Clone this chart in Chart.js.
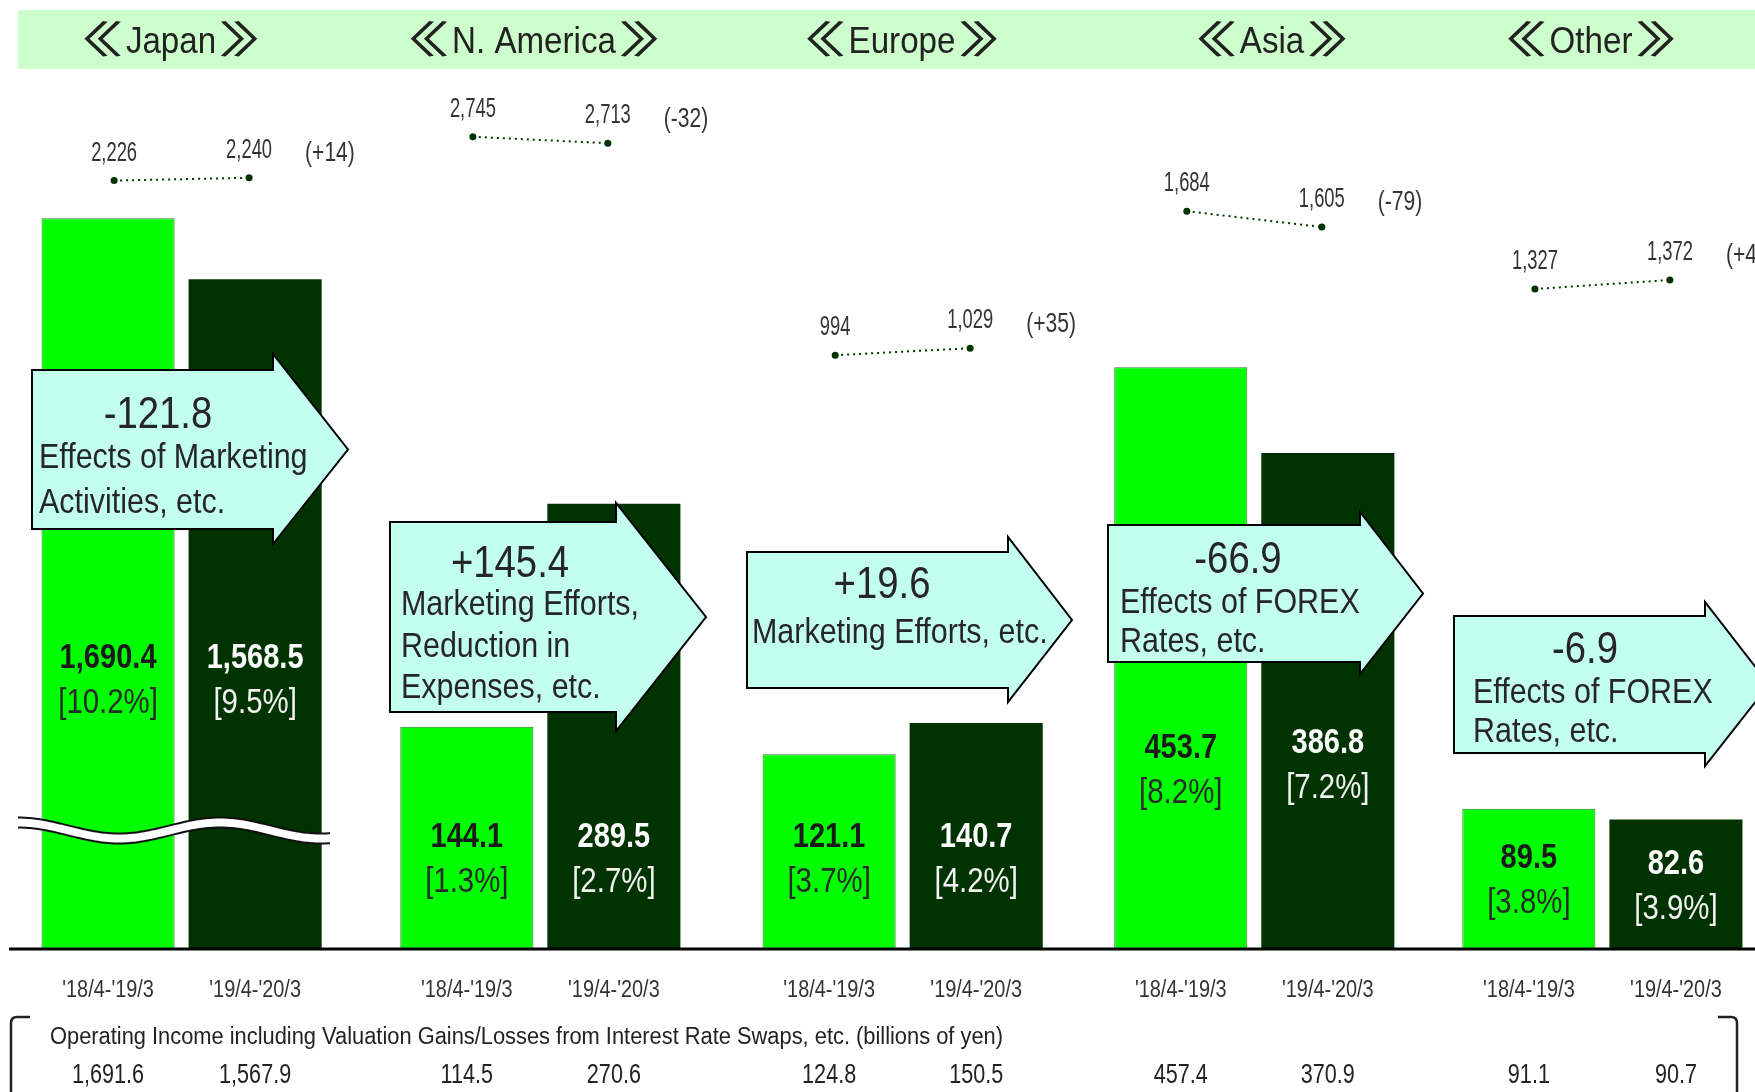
<!DOCTYPE html>
<html>
<head>
<meta charset="utf-8">
<script src="https://cdn.jsdelivr.net/npm/chart.js@4.4.1/dist/chart.umd.min.js"></script>
<style>
  html, body { margin: 0; padding: 0; background: #fff; overflow: hidden; }
  #wrap { width: 1755px; height: 1092px; overflow: hidden; }
  canvas { display: block; }
</style>
</head>
<body>
<div id="wrap"><canvas id="regionChart" width="1790" height="1092"></canvas></div>
<script>
// Regions and fiscal periods
const regions = ['Japan', 'N. America', 'Europe', 'Asia', 'Other'];
const periods = ["'18/4-'19/3", "'19/4-'20/3"];

// Operating income (billions of yen) and operating margin (%)
const opIncome18 = [1690.4, 144.1, 121.1, 453.7, 89.5];
const opIncome19 = [1568.5, 289.5, 140.7, 386.8, 82.6];
const margin18 = [10.2, 1.3, 3.7, 8.2, 3.8];
const margin19 = [9.5, 2.7, 4.2, 7.2, 3.9];

// Unit sales (thousand units)
const sales18 = [2226, 2745, 994, 1684, 1327];
const sales19 = [2240, 2713, 1029, 1605, 1372];

// Change in operating income and the main reasons
const opChange = [-121.8, 145.4, 19.6, -66.9, -6.9];
const changeReasons = [
  ['Effects of Marketing', 'Activities, etc.'],
  ['Marketing Efforts,', 'Reduction in', 'Expenses, etc.'],
  ['Marketing Efforts, etc.'],
  ['Effects of FOREX', 'Rates, etc.'],
  ['Effects of FOREX', 'Rates, etc.']
];

// Operating income incl. valuation gains/losses from interest rate swaps
const opIncSwaps18 = [1691.6, 114.5, 124.8, 457.4, 91.1];
const opIncSwaps19 = [1567.9, 270.6, 150.5, 370.9, 90.7];

// every region panel has its own value scale (Japan uses a broken axis)
const barAxisMin = [231, 0, 0, 0, 0];
const barAxisMax = [1987, 572, 549, 686, 564];
const salesAxisMax = [2779, 3079, 2420, 2390, 2422];
const SALES_SPAN = 4390;

const GREEN = '#00ff00';
const DARK = '#003300';
const FONT = '"Liberation Sans", Arial, "Noto Sans CJK JP", sans-serif';
const regionPos = [0, 1.01, 2.03, 3.02, 4];  // region centres on the x axis
const BAR_OFFSET = 0.207;   // bar centre distance from the region centre (x units)
const DOT_OFFSET = 0.19;    // same for the unit sales dots

// layout of the annotations
const headerX = [171, 534, 902, 1272, 1591];
const barLabelY = [[668, 668], [847, 847], [847, 847], [758, 753], [868, 874]];
const callouts = [
  { left: 32, top: 370, bottom: 529, shaft: 273, headTop: 354, headBottom: 544, tip: 348, numX: 158, numY: 428, textX: 39, textY: 468, gap: 44.5 },
  { left: 390, top: 522, bottom: 712, shaft: 616, headTop: 503, headBottom: 731, tip: 706, numX: 510, numY: 577, textX: 401, textY: 615, gap: 41.5 },
  { left: 747, top: 552, bottom: 688, shaft: 1008, headTop: 537, headBottom: 702, tip: 1072, numX: 882, numY: 598, textX: 752, textY: 643, gap: 40 },
  { left: 1108, top: 525, bottom: 662, shaft: 1360, headTop: 512, headBottom: 674, tip: 1423, numX: 1238, numY: 573, textX: 1120, textY: 613, gap: 38.5 },
  { left: 1454, top: 616, bottom: 753, shaft: 1705, headTop: 602, headBottom: 766, tip: 1769, numX: 1585, numY: 663, textX: 1473, textY: 703, gap: 38.5 }
];

function fmt(v, digits) {
  return v.toLocaleString('en-US', { minimumFractionDigits: digits, maximumFractionDigits: digits });
}

function drawText(ctx, str, x, y, size, o) {
  o = o || {};
  ctx.save();
  ctx.font = (o.weight || 'normal') + ' ' + size + 'px ' + FONT;
  ctx.fillStyle = o.color || '#222';
  ctx.textAlign = o.align || 'center';
  ctx.textBaseline = o.baseline || 'alphabetic';
  ctx.translate(x, y);
  ctx.scale(o.sx || 0.87, 1);
  ctx.fillText(str, 0, 0);
  ctx.restore();
}

// region title with wide double angle brackets on each side
function drawHeader(ctx, name, cx) {
  ctx.save();
  ctx.font = '36px ' + FONT;
  const w = ctx.measureText(name).width * 0.92;
  ctx.restore();
  drawText(ctx, name, cx, 53, 36, { sx: 0.92, color: '#222' });
  drawText(ctx, '\u300A', cx - w / 2 - 2, 53, 38, { align: 'right', sx: 2.2, color: '#222' });
  drawText(ctx, '\u300B', cx + w / 2 + 2, 53, 38, { align: 'left', sx: 2.2, color: '#222' });
}

function drawCallout(ctx, c, r) {
  const mid = (c.top + c.bottom) / 2;
  ctx.save();
  ctx.beginPath();
  ctx.moveTo(c.left, c.top);
  ctx.lineTo(c.shaft, c.top);
  ctx.lineTo(c.shaft, c.headTop);
  ctx.lineTo(c.tip, mid);
  ctx.lineTo(c.shaft, c.headBottom);
  ctx.lineTo(c.shaft, c.bottom);
  ctx.lineTo(c.left, c.bottom);
  ctx.closePath();
  ctx.fillStyle = '#c2ffee';
  ctx.fill();
  ctx.lineWidth = 2;
  ctx.strokeStyle = '#000';
  ctx.lineJoin = 'miter';
  ctx.stroke();
  ctx.restore();
  const v = opChange[r];
  drawText(ctx, (v > 0 ? '+' : '') + fmt(v, 1), c.numX, c.numY, 44, { color: '#262626' });
  changeReasons[r].forEach((line, i) => {
    drawText(ctx, line, c.textX, c.textY + i * c.gap, 35, { align: 'left', color: '#262626' });
  });
}

// wavy white band marking the break in the Japan axis
function drawBreak(ctx) {
  const y = x => 825.5 + 8 * Math.sin(2 * Math.PI * (x - 68.5) / 202);
  ctx.save();
  ctx.beginPath();
  for (let x = 18; x <= 330; x += 2) ctx.lineTo(x, y(x));
  for (let x = 330; x >= 18; x -= 2) ctx.lineTo(x, y(x) + 10);
  ctx.closePath();
  ctx.fillStyle = '#fff';
  ctx.fill();
  ctx.strokeStyle = '#111';
  ctx.lineWidth = 2;
  [0, 10].forEach(d => {
    ctx.beginPath();
    for (let x = 18; x <= 330; x += 2) ctx.lineTo(x, y(x) + d);
    ctx.stroke();
  });
  ctx.restore();
}

const decor = {
  id: 'regionDecor',
  beforeDatasetsDraw(chart) {
    const ctx = chart.ctx;
    ctx.save();
    ctx.fillStyle = '#ccffcc';
    ctx.fillRect(18, 10, chart.width, 59);
    ctx.restore();
    regions.forEach((name, r) => drawHeader(ctx, name, headerX[r]));
  },
  afterDatasetsDraw(chart) {
    const ctx = chart.ctx;
    const area = chart.chartArea;

    // base line
    ctx.save();
    ctx.strokeStyle = '#000';
    ctx.lineWidth = 3;
    ctx.beginPath();
    ctx.moveTo(9, area.bottom + 1);
    ctx.lineTo(chart.width, area.bottom + 1);
    ctx.stroke();
    ctx.restore();

    drawBreak(ctx);

    regions.forEach((name, r) => {
      const bars = [chart.getDatasetMeta(2 * r).data[0], chart.getDatasetMeta(2 * r + 1).data[0]];
      const values = [opIncome18[r], opIncome19[r]];
      const margins = [margin18[r], margin19[r]];
      const swaps = [opIncSwaps18[r], opIncSwaps19[r]];
      bars.forEach((bar, k) => {
        const ly = barLabelY[r][k];
        const onDark = k === 1;
        drawText(ctx, fmt(values[k], 1), bar.x, ly, 35, { weight: 'bold', sx: 0.83, color: onDark ? '#fff' : '#1a1a1a' });
        drawText(ctx, '[' + fmt(margins[k], 1) + '%]', bar.x, ly + 45, 35, { sx: 0.84, color: onDark ? '#f2f2f2' : '#2a2a2a' });
        drawText(ctx, periods[k], bar.x, 997, 23, { sx: 0.865, color: '#333' });
        drawText(ctx, fmt(swaps[k], 1), bar.x, 1083, 27, { sx: 0.8, color: '#222' });
      });

      // unit sales labels
      const pts = chart.getDatasetMeta(10 + r).data;
      const sv = [sales18[r], sales19[r]];
      pts.forEach((p, k) => {
        drawText(ctx, fmt(sv[k], 0), p.x, p.y - 20, 27, { sx: 0.68, color: '#333' });
      });
      const diff = sales19[r] - sales18[r];
      drawText(ctx, '(' + (diff > 0 ? '+' : '') + diff + ')', pts[1].x + 56, pts[1].y - 24, 27,
        { align: 'left', baseline: 'middle', sx: 0.78, color: '#333' });

      drawCallout(ctx, callouts[r], r);
    });

    // bracketed box for operating income incl. swaps
    ctx.save();
    ctx.strokeStyle = '#222';
    ctx.lineWidth = 2.5;
    ctx.beginPath();
    ctx.moveTo(30, 1017);
    ctx.lineTo(17, 1017);
    ctx.quadraticCurveTo(11, 1017, 11, 1023);
    ctx.lineTo(11, 1100);
    ctx.moveTo(1718, 1017);
    ctx.lineTo(1731, 1017);
    ctx.quadraticCurveTo(1737, 1017, 1737, 1023);
    ctx.lineTo(1737, 1100);
    ctx.stroke();
    ctx.restore();
    drawText(ctx, 'Operating Income including Valuation Gains/Losses from Interest Rate Swaps, etc. (billions of yen)',
      50, 1044, 23, { align: 'left', sx: 0.95, color: '#222' });
  }
};

// bars: one per region and period, each region on its own value axis
const datasets = [];
regions.forEach((name, r) => {
  [[opIncome18, GREEN, 1, '#2f7a2f', -BAR_OFFSET], [opIncome19, DARK, 0, DARK, BAR_OFFSET]].forEach(([src, color, bw, bc, dx], k) => {
    datasets.push({
      type: 'bar',
      label: name + ' ' + periods[k],
      data: [{ x: regionPos[r] + dx, y: src[r] }],
      backgroundColor: color,
      borderColor: bc,
      borderWidth: bw,
      base: barAxisMin[r],
      grouped: false,
      categoryPercentage: 1,
      barPercentage: 0.905,
      xAxisID: 'x',
      yAxisID: 'yb' + r
    });
  });
});
// unit sales: dotted segment per region
regions.forEach((name, r) => {
  datasets.push({
    type: 'line',
    label: name + ' sales',
    data: [{ x: regionPos[r] - DOT_OFFSET, y: sales18[r] }, { x: regionPos[r] + DOT_OFFSET, y: sales19[r] }],
    borderColor: DARK,
    borderWidth: 2,
    borderDash: [2, 4],
    pointRadius: 3.5,
    pointBackgroundColor: DARK,
    pointBorderWidth: 0,
    xAxisID: 'x',
    yAxisID: 'ys' + r
  });
});

const scales = {
  x: { type: 'linear', min: -0.5, max: 4.5, offset: false, ticks: { stepSize: 1 }, display: false }
};
regions.forEach((_, r) => {
  scales['yb' + r] = { type: 'linear', min: barAxisMin[r], max: barAxisMax[r], display: false };
  scales['ys' + r] = { type: 'linear', min: salesAxisMax[r] - SALES_SPAN, max: salesAxisMax[r], display: false };
});

const ctx = document.getElementById('regionChart').getContext('2d');
new Chart(ctx, {
  type: 'bar',
  data: { datasets: datasets },
  options: {
    responsive: false,
    devicePixelRatio: 1,
    animation: false,
    layout: { padding: { left: 4, right: 10, top: 70, bottom: 144 } },
    plugins: { legend: { display: false }, tooltip: { enabled: false } },
    scales: scales
  },
  plugins: [decor]
});
</script>
</body>
</html>
